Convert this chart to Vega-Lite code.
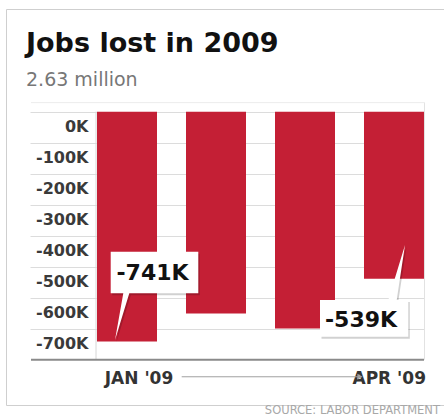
{
  "$schema": "https://vega.github.io/schema/vega-lite/v6.json",
  "width": 438,
  "height": 396,
  "autosize": {"type": "none"},
  "padding": {"left": 6, "top": 9, "right": 0, "bottom": 11},
  "background": "white",
  "config": {
    "font": "DejaVu Sans",
    "view": {"stroke": "#cfcfcf", "strokeWidth": 1},
    "locale": {
      "number": {"decimal": ".", "thousands": ",", "grouping": [3], "currency": ["", "K"], "minus": "-"}
    }
  },
  "resolve": {"axis": {"y": "independent"}},
  "title": {
    "text": "Jobs lost in 2009",
    "subtitle": "2.63 million",
    "anchor": "start",
    "frame": "group",
    "offset": -82,
    "dx": 20,
    "font": "DejaVu Sans",
    "fontSize": 27,
    "fontWeight": "bold",
    "color": "#111111",
    "subtitleFont": "DejaVu Sans",
    "subtitleFontSize": 19,
    "subtitleColor": "#777777",
    "subtitlePadding": 13
  },
  "data": {
    "values": [
      {"month": "JAN '09", "value": -741},
      {"month": "FEB '09", "value": -651},
      {"month": "MAR '09", "value": -699},
      {"month": "APR '09", "value": -539}
    ]
  },
  "layer": [
    {
      "transform": [{"filter": {"field": "month", "equal": "JAN '09"}}],
      "mark": {"type": "rule", "color": "#d6d6d6", "strokeWidth": 1, "xOffset": -1},
      "encoding": {
        "x": {"datum": "JAN '09", "bandPosition": 0, "axis": null},
        "y": {
          "datum": 0,
          "axis": {
            "orient": "left",
            "offset": -418,
            "domain": false,
            "grid": false,
            "title": null,
            "values": [0, -100, -200, -300, -400, -500, -600, -700],
            "format": "$d",
            "tickSize": 394,
            "tickColor": "#dcdcdc",
            "labelPadding": -58,
            "labelOffset": 14.5,
            "labelBaseline": "middle",
            "labelAlign": "right",
            "labelFont": "DejaVu Sans",
            "labelFontSize": 16,
            "labelFontWeight": "bold",
            "labelColor": "#3a3a3a",
            "labelOverlap": false,
            "labelFlush": false
          }
        },
        "y2": {"datum": -800}
      }
    },
    {
      "mark": {"type": "bar", "color": "#c41f35"},
      "encoding": {
        "x": {
          "field": "month",
          "type": "nominal",
          "scale": {
            "domain": ["JAN '09", "FEB '09", "MAR '09", "APR '09"],
            "paddingInner": 0.32584,
            "paddingOuter": 0.6236,
            "align": 0.81982,
            "round": false
          },
          "axis": null
        },
        "y": {
          "field": "value",
          "type": "quantitative",
          "scale": {"domain": [-946, 331], "nice": false, "zero": false},
          "axis": null
        }
      }
    },
    {
      "transform": [{"filter": {"field": "month", "equal": "APR '09"}}],
      "mark": {"type": "rule", "color": "#e2e2e2", "strokeWidth": 1, "xOffset": 0.5},
      "encoding": {
        "x": {"datum": "APR '09", "bandPosition": 1, "axis": null},
        "y": {"datum": 29, "axis": null},
        "y2": {"datum": -800}
      }
    },
    {
      "transform": [{"filter": {"field": "month", "equal": "JAN '09"}}],
      "mark": {"type": "rule", "color": "#ececec", "strokeWidth": 1, "xOffset": -66, "x2Offset": 1},
      "encoding": {
        "x": {"datum": "JAN '09", "bandPosition": 0, "axis": null},
        "x2": {"datum": "APR '09", "bandPosition": 1},
        "y": {"datum": 29, "axis": null}
      }
    },
    {
      "transform": [{"filter": {"field": "month", "equal": "JAN '09"}}],
      "mark": {"type": "rule", "color": "#8a8a8a", "strokeWidth": 2, "xOffset": -66, "x2Offset": 0},
      "encoding": {
        "x": {"datum": "JAN '09", "bandPosition": 0, "axis": null},
        "x2": {"datum": "APR '09", "bandPosition": 1},
        "y": {"datum": -800, "axis": null}
      }
    },
    {
      "transform": [{"filter": {"field": "month", "equal": "JAN '09"}}],
      "mark": {
        "type": "point",
        "shape": "M-0.326,-1.794L1.426,-1.794L1.426,-0.962L0.046,-0.962L-0.24,-0.03L-0.074,-0.962L-0.326,-0.962Z",
        "size": 10000,
        "filled": true,
        "fill": "#000000",
        "opacity": 0.18,
        "xOffset": 1.5,
        "yOffset": 2
      },
      "encoding": {
        "x": {"field": "month", "type": "nominal", "axis": null},
        "y": {"field": "value", "type": "quantitative", "axis": null}
      }
    },
    {
      "transform": [{"filter": {"field": "month", "equal": "JAN '09"}}],
      "mark": {
        "type": "point",
        "shape": "M-0.326,-1.794L1.426,-1.794L1.426,-0.962L0.046,-0.962L-0.24,-0.03L-0.074,-0.962L-0.326,-0.962Z",
        "size": 10000,
        "filled": true,
        "fill": "#ffffff",
        "opacity": 1
      },
      "encoding": {
        "x": {"field": "month", "type": "nominal", "axis": null},
        "y": {"field": "value", "type": "quantitative", "axis": null}
      }
    },
    {
      "transform": [{"filter": {"field": "month", "equal": "APR '09"}}],
      "mark": {
        "type": "point",
        "shape": "M-1.48,0.424L-0.114,0.424L0.22,-0.676L0.054,0.424L0.286,0.424L0.286,1.158L-1.48,1.158Z",
        "size": 10000,
        "filled": true,
        "fill": "#000000",
        "opacity": 0.18,
        "xOffset": 1.5,
        "yOffset": 2
      },
      "encoding": {
        "x": {"field": "month", "type": "nominal", "axis": null},
        "y": {"field": "value", "type": "quantitative", "axis": null}
      }
    },
    {
      "transform": [{"filter": {"field": "month", "equal": "APR '09"}}],
      "mark": {
        "type": "point",
        "shape": "M-1.48,0.424L-0.114,0.424L0.22,-0.676L0.054,0.424L0.286,0.424L0.286,1.158L-1.48,1.158Z",
        "size": 10000,
        "filled": true,
        "fill": "#ffffff",
        "opacity": 1
      },
      "encoding": {
        "x": {"field": "month", "type": "nominal", "axis": null},
        "y": {"field": "value", "type": "quantitative", "axis": null}
      }
    },
    {
      "transform": [{"filter": {"field": "month", "equal": "JAN '09"}}],
      "mark": {"type": "text", "font": "DejaVu Sans", "fontSize": 22, "fontWeight": "bold", "color": "#111111", "align": "center", "baseline": "alphabetic", "dx": 25.5, "dy": -61.4},
      "encoding": {
        "x": {"field": "month", "type": "nominal", "axis": null},
        "y": {"field": "value", "type": "quantitative", "axis": null},
        "text": {"field": "value", "type": "quantitative", "format": "$d"}
      }
    },
    {
      "transform": [{"filter": {"field": "month", "equal": "APR '09"}}],
      "mark": {"type": "text", "font": "DejaVu Sans", "fontSize": 22, "fontWeight": "bold", "color": "#111111", "align": "center", "baseline": "alphabetic", "dx": -33, "dy": 47.9},
      "encoding": {
        "x": {"field": "month", "type": "nominal", "axis": null},
        "y": {"field": "value", "type": "quantitative", "axis": null},
        "text": {"field": "value", "type": "quantitative", "format": "$d"}
      }
    },
    {
      "transform": [{"filter": {"field": "month", "equal": "JAN '09"}}],
      "mark": {"type": "text", "font": "DejaVu Sans", "fontSize": 17, "fontWeight": "bold", "color": "#333333", "align": "center", "baseline": "alphabetic", "dx": 12},
      "encoding": {
        "x": {"field": "month", "type": "nominal", "axis": null},
        "y": {"datum": -878, "axis": null},
        "text": {"field": "month"}
      }
    },
    {
      "transform": [{"filter": {"field": "month", "equal": "APR '09"}}],
      "mark": {"type": "text", "font": "DejaVu Sans", "fontSize": 17, "fontWeight": "bold", "color": "#333333", "align": "right", "baseline": "alphabetic", "dx": 32},
      "encoding": {
        "x": {"field": "month", "type": "nominal", "axis": null},
        "y": {"datum": -878, "axis": null},
        "text": {"field": "month"}
      }
    },
    {
      "transform": [{"filter": {"field": "month", "equal": "JAN '09"}}],
      "mark": {"type": "rule", "color": "#a0a0a0", "strokeWidth": 1, "xOffset": 54.7, "x2Offset": -35},
      "encoding": {
        "x": {"datum": "JAN '09", "bandPosition": 0.5, "axis": null},
        "x2": {"datum": "APR '09", "bandPosition": 0.5},
        "y": {"datum": -855, "axis": null}
      }
    },
    {
      "transform": [{"filter": {"field": "month", "equal": "APR '09"}}],
      "mark": {"type": "point", "shape": "triangle-right", "size": 36, "filled": true, "color": "#a0a0a0", "opacity": 1, "xOffset": -34},
      "encoding": {
        "x": {"field": "month", "type": "nominal", "axis": null},
        "y": {"datum": -855, "axis": null}
      }
    },
    {
      "transform": [{"filter": {"field": "month", "equal": "APR '09"}}],
      "mark": {"type": "text", "text": "SOURCE: LABOR DEPARTMENT", "font": "DejaVu Sans", "fontSize": 11.5, "color": "#a8a8a8", "align": "right", "baseline": "alphabetic", "dx": 16},
      "encoding": {
        "x": {"datum": "APR '09", "bandPosition": 1, "axis": null},
        "y": {"datum": -975, "axis": null}
      }
    }
  ]
}
